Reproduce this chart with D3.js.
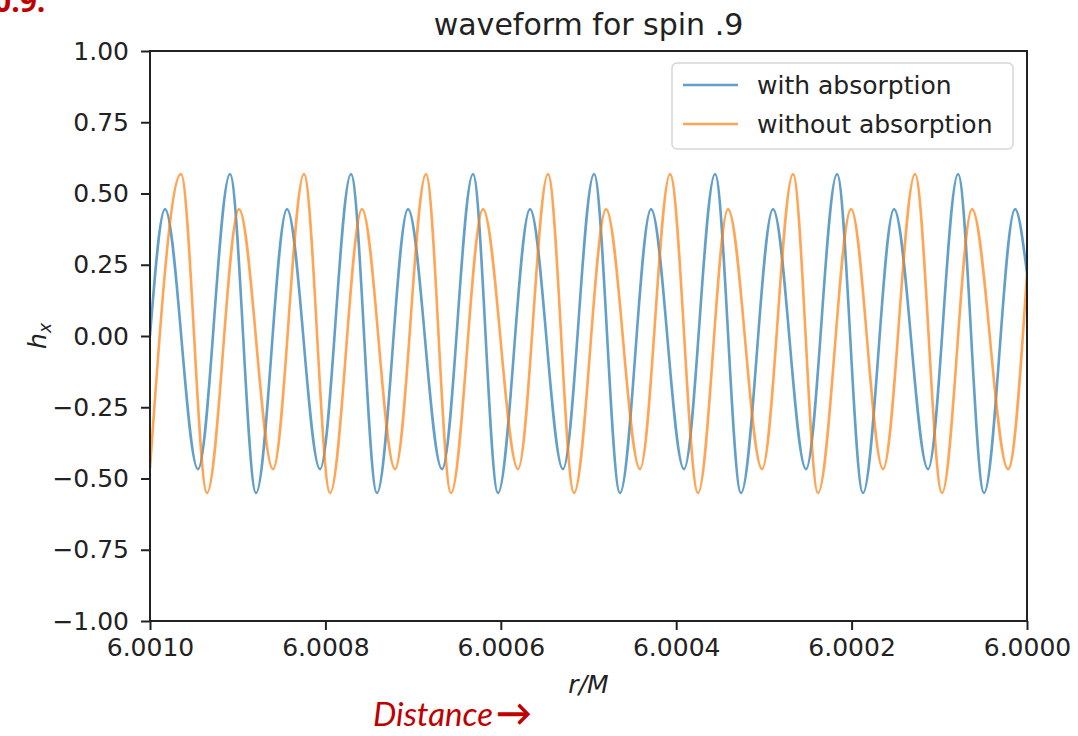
<!DOCTYPE html>
<html>
<head>
<meta charset="utf-8">
<script src="https://cdn.jsdelivr.net/npm/d3@7"></script>
<style>
  body { margin: 0; background: #fff; }
  svg { display: block; }
</style>
</head>
<body>
<div id="chart"></div>
<script>
// r/M positions of the turning points
const withR = [6.0010000, 6.0009829, 6.0009453, 6.0009088, 6.0008791, 6.0008438, 6.0008061,
  6.0007708, 6.0007412, 6.0007058, 6.0006670, 6.0006317, 6.0006032, 6.0005667, 6.0005291,
  6.0004937, 6.0004641, 6.0004287, 6.0003911, 6.0003557, 6.0003261, 6.0002896, 6.0002520,
  6.0002166, 6.0001870, 6.0001516, 6.0001128, 6.0000786, 6.0000490, 6.0000136, 6.0000000];
const withH = [0.00, 0.445, -0.467, 0.568, -0.551, 0.445, -0.467,
  0.568, -0.551, 0.445, -0.467, 0.568, -0.551, 0.445, -0.467,
  0.568, -0.551, 0.445, -0.467, 0.568, -0.551, 0.445, -0.467,
  0.568, -0.551, 0.445, -0.467, 0.568, -0.551, 0.445, 0.22];

const withoutR = [6.0010000, 6.0009647, 6.0009350, 6.0008985, 6.0008597, 6.0008244, 6.0007947,
  6.0007583, 6.0007206, 6.0006853, 6.0006568, 6.0006203, 6.0005804, 6.0005462, 6.0005165,
  6.0004800, 6.0004413, 6.0004070, 6.0003751, 6.0003409, 6.0003021, 6.0002668, 6.0002383,
  6.0002006, 6.0001642, 6.0001277, 6.0000969, 6.0000627, 6.0000216, 6.0000000];
const withoutH = [-0.465, 0.568, -0.551, 0.445, -0.467, 0.568, -0.551,
  0.445, -0.467, 0.568, -0.551, 0.445, -0.467, 0.568, -0.551,
  0.445, -0.467, 0.568, -0.551, 0.445, -0.467, 0.568, -0.551,
  0.445, -0.467, 0.568, -0.551, 0.445, -0.467, 0.22];

const xTicks = [6.0010, 6.0008, 6.0006, 6.0004, 6.0002, 6.0000];
const yTicks = [-1.00, -0.75, -0.50, -0.25, 0.00, 0.25, 0.50, 0.75, 1.00];
const seriesNames = ["with absorption", "without absorption"];
const seriesColors = ["#1f77b4", "#ff7f0e"];

const width = 1078, height = 736;
const plotL = 150, plotR = 1027, plotT = 51, plotB = 621;
const font = "'DejaVu Sans', sans-serif";

const svg = d3.select("#chart").append("svg")
  .attr("width", width)
  .attr("height", height);

const x = d3.scaleLinear().domain([6.0010, 6.0000]).range([plotL, plotR]);
const y = d3.scaleLinear().domain([-1, 1]).range([plotB, plotT]);

svg.append("defs").append("clipPath").attr("id", "plotClip")
  .append("rect")
  .attr("x", plotL).attr("y", plotT)
  .attr("width", plotR - plotL).attr("height", plotB - plotT);

const line = d3.line()
  .x(d => x(d[0]))
  .y(d => y(d[1]))
  .curve(d3.curveMonotoneX);

const series = [
  d3.zip(withR, withH),
  d3.zip(withoutR, withoutH)
];

svg.append("g").attr("clip-path", "url(#plotClip)")
  .selectAll("path")
  .data(series)
  .enter().append("path")
  .attr("d", line)
  .attr("fill", "none")
  .attr("stroke", (d, i) => seriesColors[i])
  .attr("stroke-opacity", 0.7)
  .attr("stroke-width", 2.6);

// axes
const xAxis = svg.append("g")
  .attr("transform", `translate(0,${plotB})`)
  .call(d3.axisBottom(x).tickValues(xTicks).tickFormat(d3.format(".4f")).tickSize(9).tickPadding(8));

const yAxis = svg.append("g")
  .attr("transform", `translate(${plotL},0)`)
  .call(d3.axisLeft(y).tickValues(yTicks).tickFormat(d3.format(".2f")).tickSize(9).tickPadding(12));

[xAxis, yAxis].forEach(g => {
  g.select(".domain").remove();
  g.selectAll(".tick line").attr("stroke", "#222").attr("stroke-width", 2);
  g.selectAll(".tick text")
    .attr("font-family", font)
    .attr("font-size", 25)
    .attr("fill", "#222");
});

// frame
svg.append("rect")
  .attr("x", plotL).attr("y", plotT)
  .attr("width", plotR - plotL).attr("height", plotB - plotT)
  .attr("fill", "none")
  .attr("stroke", "#222")
  .attr("stroke-width", 2);

// title and labels
svg.append("text")
  .attr("x", (plotL + plotR) / 2).attr("y", 35)
  .attr("text-anchor", "middle")
  .attr("font-family", font).attr("font-size", 30)
  .attr("fill", "#222")
  .text("waveform for spin .9");

svg.append("text")
  .attr("x", (plotL + plotR) / 2).attr("y", 693)
  .attr("text-anchor", "middle")
  .attr("font-family", font).attr("font-size", 25)
  .attr("font-style", "italic")
  .attr("fill", "#222")
  .text("r/M");

const yLab = svg.append("text")
  .attr("transform", `translate(46,${(plotT + plotB) / 2}) rotate(-90)`)
  .attr("text-anchor", "middle")
  .attr("font-family", font).attr("font-size", 25)
  .attr("font-style", "italic")
  .attr("fill", "#222");
yLab.append("tspan").text("h");
yLab.append("tspan").attr("font-size", 17).attr("dy", 5).text("x");

// legend
const legend = svg.append("g");
legend.append("rect")
  .attr("x", 672).attr("y", 63)
  .attr("width", 341).attr("height", 86)
  .attr("rx", 5)
  .attr("fill", "#fff").attr("fill-opacity", 0.8)
  .attr("stroke", "#d6d6d6").attr("stroke-width", 1.5);

seriesNames.forEach((name, i) => {
  const ly = 85 + i * 39;
  legend.append("line")
    .attr("x1", 683).attr("x2", 738)
    .attr("y1", ly).attr("y2", ly)
    .attr("stroke", seriesColors[i])
    .attr("stroke-opacity", 0.7)
    .attr("stroke-width", 2.6);
  legend.append("text")
    .attr("x", 757).attr("y", ly + 9)
    .attr("font-family", font).attr("font-size", 25)
    .attr("fill", "#222")
    .text(name);
});

// slide annotations in red
svg.append("text")
  .attr("x", -6).attr("y", 12)
  .attr("font-family", "'Open Sans', sans-serif")
  .attr("font-size", 30).attr("font-weight", "bold")
  .attr("fill", "#c00000")
  .text("0.9:");

const dist = svg.append("text")
  .attr("x", 373).attr("y", 726)
  .attr("font-family", "Lato, 'Open Sans', sans-serif")
  .attr("font-size", 33).attr("font-style", "italic")
  .attr("fill", "#c00000");
dist.append("tspan").text("Distance");
dist.append("tspan")
  .attr("dx", 3)
  .attr("font-style", "normal").attr("font-weight", "bold")
  .attr("font-size", 36)
  .text("\u2192");
</script>
</body>
</html>
